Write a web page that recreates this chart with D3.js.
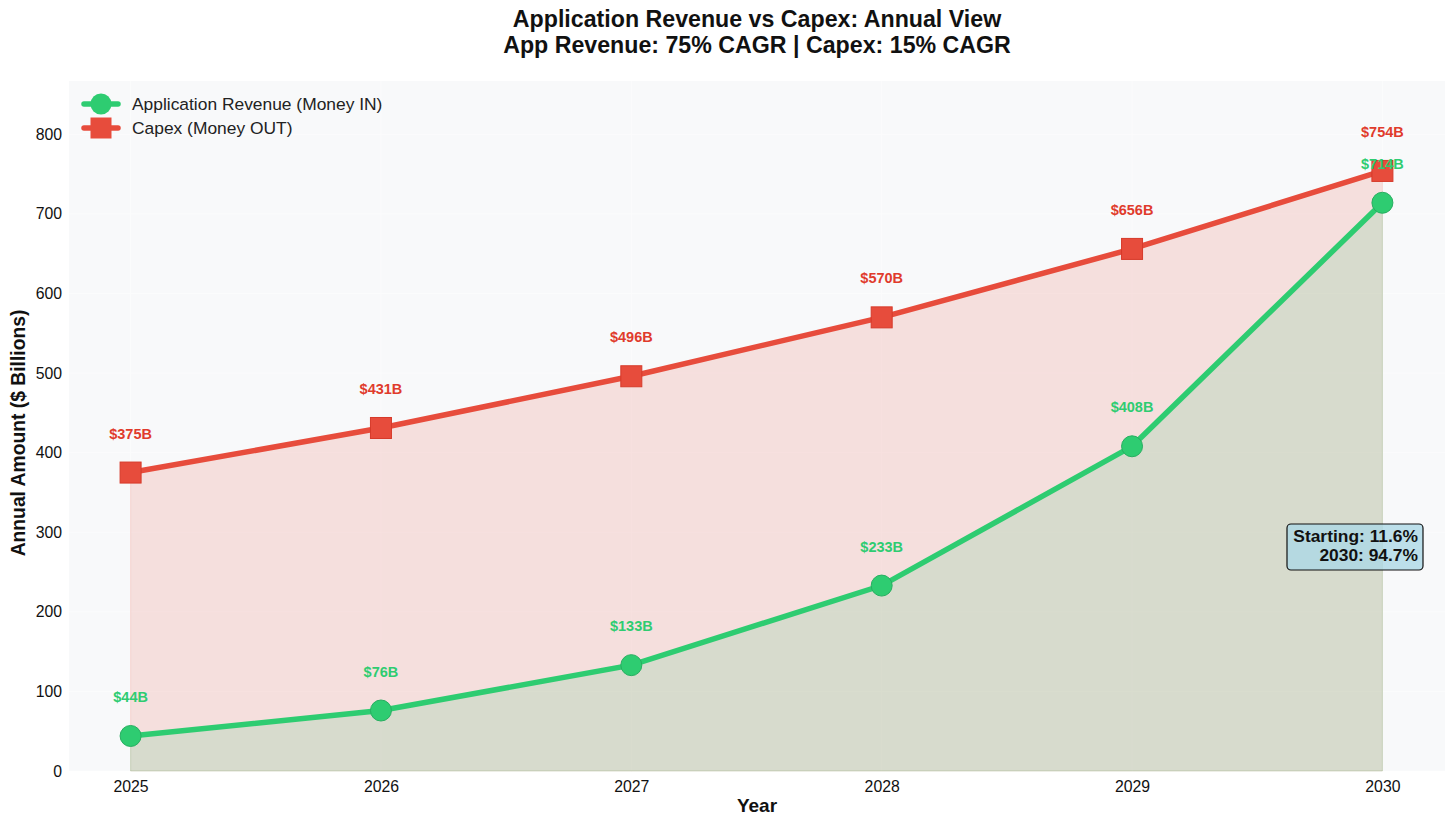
<!DOCTYPE html>
<html>
<head>
<meta charset="utf-8">
<script src="https://cdn.jsdelivr.net/npm/d3@7"></script>
<style>
  body { margin: 0; background: #fff; }
  text { font-family: "Liberation Sans", Arial, sans-serif; }
</style>
</head>
<body>
<script>
// chart data
var years = [2025, 2026, 2027, 2028, 2029, 2030];
var revenue = [44, 76, 133, 233, 408, 714];
var capex = [375, 431, 496, 570, 656, 754];
var yTicks = [0, 100, 200, 300, 400, 500, 600, 700, 800];
var titleLines = ["Application Revenue vs Capex: Annual View", "App Revenue: 75% CAGR | Capex: 15% CAGR"];
var noteLines = ["Starting: 11.6%", "2030: 94.7%"];

var green = "#2ecc71", red = "#e74c3c";
var W = 1456, H = 827;
var m = {left: 69, right: 11, top: 81, bottom: 56};

var svg = d3.select("body").append("svg")
    .attr("width", W).attr("height", H);

var x = d3.scaleLinear().domain([2024.75, 2030.25]).range([m.left - 1, W - m.right]);
var y = d3.scaleLinear().domain([0, 867]).range([H - m.bottom, m.top]);

// plot background
svg.append("rect")
    .attr("x", m.left).attr("y", m.top)
    .attr("width", W - m.left - m.right).attr("height", H - m.top - m.bottom)
    .attr("fill", "#f8f9fa");

// faint grid
var grid = svg.append("g").attr("opacity", 0.5);
grid.selectAll(".gy").data(yTicks).enter().append("line")
    .attr("x1", m.left).attr("x2", W - m.right)
    .attr("y1", function(d){ return y(d); }).attr("y2", function(d){ return y(d); })
    .attr("stroke", "#ffffff").attr("stroke-width", 1);
grid.selectAll(".gx").data(years).enter().append("line")
    .attr("y1", m.top).attr("y2", H - m.bottom)
    .attr("x1", function(d){ return x(d); }).attr("x2", function(d){ return x(d); })
    .attr("stroke", "#ffffff").attr("stroke-width", 1);

var pts = years.map(function(d, i){ return {year: d, rev: revenue[i], cap: capex[i]}; });

// fills
var capArea = d3.area()
    .x(function(d){ return x(d.year); })
    .y0(y(0)).y1(function(d){ return y(d.cap); });
var revArea = d3.area()
    .x(function(d){ return x(d.year); })
    .y0(y(0)).y1(function(d){ return y(d.rev); });

svg.append("path").datum(pts).attr("d", capArea)
    .attr("fill", red).attr("fill-opacity", 0.15)
    .attr("stroke", red).attr("stroke-opacity", 0.15);
svg.append("path").datum(pts).attr("d", revArea)
    .attr("fill", green).attr("fill-opacity", 0.15)
    .attr("stroke", green).attr("stroke-opacity", 0.15);

// lines
var capLine = d3.line().x(function(d){ return x(d.year); }).y(function(d){ return y(d.cap); });
var revLine = d3.line().x(function(d){ return x(d.year); }).y(function(d){ return y(d.rev); });

svg.append("path").datum(pts).attr("d", revLine)
    .attr("fill", "none").attr("stroke", green).attr("stroke-width", 5.5);
svg.append("path").datum(pts).attr("d", capLine)
    .attr("fill", "none").attr("stroke", red).attr("stroke-width", 5.5);

// markers
svg.selectAll(".rm").data(pts).enter().append("circle")
    .attr("cx", function(d){ return x(d.year); })
    .attr("cy", function(d){ return y(d.rev); })
    .attr("r", 10.5).attr("fill", green)
    .attr("stroke", "#27ae60").attr("stroke-width", 1);
svg.selectAll(".cm").data(pts).enter().append("rect")
    .attr("x", function(d){ return x(d.year) - 10.5; })
    .attr("y", function(d){ return y(d.cap) - 10.5; })
    .attr("width", 21).attr("height", 21).attr("fill", red)
    .attr("stroke", "#d63a2a").attr("stroke-width", 1);

// value labels
svg.selectAll(".rl").data(pts).enter().append("text")
    .attr("x", function(d){ return x(d.year); })
    .attr("y", function(d){ return y(d.rev) - 34; })
    .attr("text-anchor", "middle")
    .attr("font-size", 14.5).attr("font-weight", "bold")
    .attr("fill", green)
    .text(function(d){ return "$" + d.rev + "B"; });
svg.selectAll(".cl").data(pts).enter().append("text")
    .attr("x", function(d){ return x(d.year); })
    .attr("y", function(d){ return y(d.cap) - 34; })
    .attr("text-anchor", "middle")
    .attr("font-size", 14.5).attr("font-weight", "bold")
    .attr("fill", "#e03b2c")
    .text(function(d){ return "$" + d.cap + "B"; });

// axes
var xAxis = svg.append("g")
    .attr("transform", "translate(0," + (H - m.bottom) + ")")
    .call(d3.axisBottom(x).tickValues(years).tickFormat(d3.format("d")).tickSize(0).tickPadding(10));
var yAxis = svg.append("g")
    .attr("transform", "translate(" + m.left + ",0)")
    .call(d3.axisLeft(y).tickValues(yTicks).tickSize(0).tickPadding(7));
[xAxis, yAxis].forEach(function(a){
    a.select(".domain").remove();
    a.selectAll("text").attr("font-size", 15.8).attr("fill", "#111")
        .attr("font-family", "Liberation Sans, Arial, sans-serif");
});

svg.append("text")
    .attr("x", (m.left + W - m.right) / 2).attr("y", 812)
    .attr("text-anchor", "middle")
    .attr("font-size", 19).attr("font-weight", "bold").attr("fill", "#111")
    .text("Year");
svg.append("text")
    .attr("transform", "translate(25," + ((m.top + H - m.bottom) / 2 + 7) + ") rotate(-90)")
    .attr("text-anchor", "middle")
    .attr("font-size", 19.3).attr("font-weight", "bold").attr("fill", "#111")
    .text("Annual Amount ($ Billions)");

// title
svg.selectAll(".title").data(titleLines).enter().append("text")
    .attr("x", 757)
    .attr("y", function(d, i){ return 27 + i * 26; })
    .attr("text-anchor", "middle")
    .attr("font-size", 23.2).attr("font-weight", "bold").attr("fill", "#111")
    .text(function(d){ return d; });

// legend
var legend = svg.append("g").attr("transform", "translate(82,104)");
var leg = [
    {label: "Application Revenue (Money IN)", color: green, shape: "circle"},
    {label: "Capex (Money OUT)", color: red, shape: "square"}
];
leg.forEach(function(d, i){
    var g = legend.append("g").attr("transform", "translate(0," + (i * 24) + ")");
    g.append("line").attr("x1", 2).attr("x2", 36)
        .attr("stroke", d.color).attr("stroke-width", 5.5).attr("stroke-linecap", "round");
    if (d.shape === "circle") {
        g.append("circle").attr("cx", 19).attr("r", 10.5).attr("fill", d.color);
    } else {
        g.append("rect").attr("x", 8.5).attr("y", -10.5).attr("width", 21).attr("height", 21).attr("fill", d.color);
    }
    g.append("text").attr("x", 50).attr("y", 6)
        .attr("font-size", 17.4).attr("fill", "#222").text(d.label);
});

// note box
var note = svg.append("g");
note.append("rect")
    .attr("x", 1287).attr("y", 524).attr("width", 136).attr("height", 46)
    .attr("rx", 4).attr("fill", "#add8e6").attr("fill-opacity", 0.8)
    .attr("stroke", "#111").attr("stroke-width", 1.2);
note.selectAll("text").data(noteLines).enter().append("text")
    .attr("x", 1418).attr("y", function(d, i){ return 542 + i * 19; })
    .attr("text-anchor", "end")
    .attr("font-size", 17.4).attr("font-weight", "bold").attr("fill", "#111")
    .text(function(d){ return d; });
</script>
</body>
</html>
